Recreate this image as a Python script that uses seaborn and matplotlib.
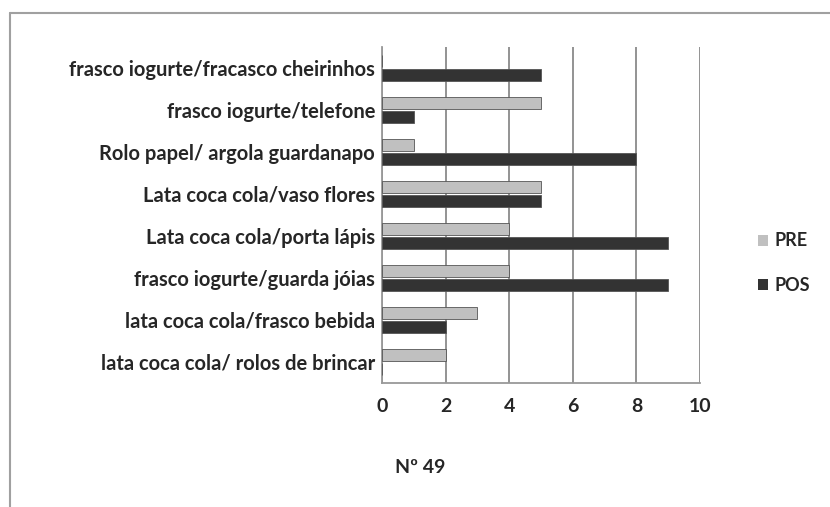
import pandas as pd
import seaborn as sns
import matplotlib.pyplot as plt
from matplotlib.lines import Line2D
from matplotlib.patches import Patch

categories = [
    "frasco iogurte/fracasco cheirinhos",
    "frasco iogurte/telefone",
    "Rolo papel/ argola guardanapo",
    "Lata coca cola/vaso flores",
    "Lata coca cola/porta lápis",
    "frasco iogurte/guarda jóias",
    "lata coca cola/frasco bebida",
    "lata coca cola/ rolos de brincar",
]
pre = [0, 5, 1, 5, 4, 4, 3, 2]
pos = [5, 1, 8, 5, 9, 9, 2, 0]
series = ["PRE", "POS"]
xticks = [0, 2, 4, 6, 8, 10]

df = pd.DataFrame({
    "categoria": categories * 2,
    "valor": pre + pos,
    "serie": ["PRE"] * len(pre) + ["POS"] * len(pos),
})

sns.set_style("white")
plt.rcParams["font.family"] = ["Lato", "DejaVu Sans"]
plt.rcParams["font.weight"] = "bold"

colors = {"PRE": "#c0c0c0", "POS": "#333333"}

fig = plt.figure(figsize=(8.3, 5.07), dpi=100)
ax = fig.add_axes([382 / 830, 1 - 383 / 507, 318 / 830, 336 / 507])

sns.barplot(data=df, x="valor", y="categoria", hue="serie", hue_order=series,
            palette=colors, orient="h", width=0.66, gap=0.08,
            edgecolor="#555555", linewidth=0.6, legend=False, ax=ax, zorder=3)

ax.set_xlim(0, 10)
ax.set_xticks(xticks)
ax.set_xticklabels([str(t) for t in xticks], fontsize=14, fontweight="bold")
ax.tick_params(axis="y", labelsize=14.5, length=0, pad=5)
for lbl in ax.get_yticklabels():
    lbl.set_fontweight("bold")
ax.tick_params(axis="x", length=4, color="#888888", pad=7)
ax.grid(axis="x", color="#8a8a8a", linewidth=1.3, zorder=0)
for side in ["top", "right"]:
    ax.spines[side].set_visible(False)
ax.spines["left"].set_color("#999999")
ax.spines["bottom"].set_color("#999999")
ax.spines["left"].set_linewidth(1.3)
ax.spines["bottom"].set_linewidth(1.3)
ax.set_ylabel("")
ax.set_xlabel("Nº 49", fontsize=14, fontweight="bold")
ax.xaxis.set_label_coords(38 / 318, -0.225)

handles = [Patch(facecolor=colors[s], edgecolor="none") for s in series]
fig.legend(handles, series, loc="center left", bbox_to_anchor=(758 / 830, 1 - 263 / 507),
           frameon=False, fontsize=13, handlelength=0.55, handleheight=0.55,
           handletextpad=0.35, labelspacing=1.5, borderpad=0, borderaxespad=0)

# outer frame (top and left edges of the cropped chart area)
fig.add_artist(Line2D([10 / 830, 10 / 830], [0, 1 - 13 / 507], color="#a0a0a0", lw=1.5))
fig.add_artist(Line2D([10 / 830, 1], [1 - 13 / 507, 1 - 13 / 507], color="#a0a0a0", lw=1.5))

fig.savefig("out.png", dpi=100)
